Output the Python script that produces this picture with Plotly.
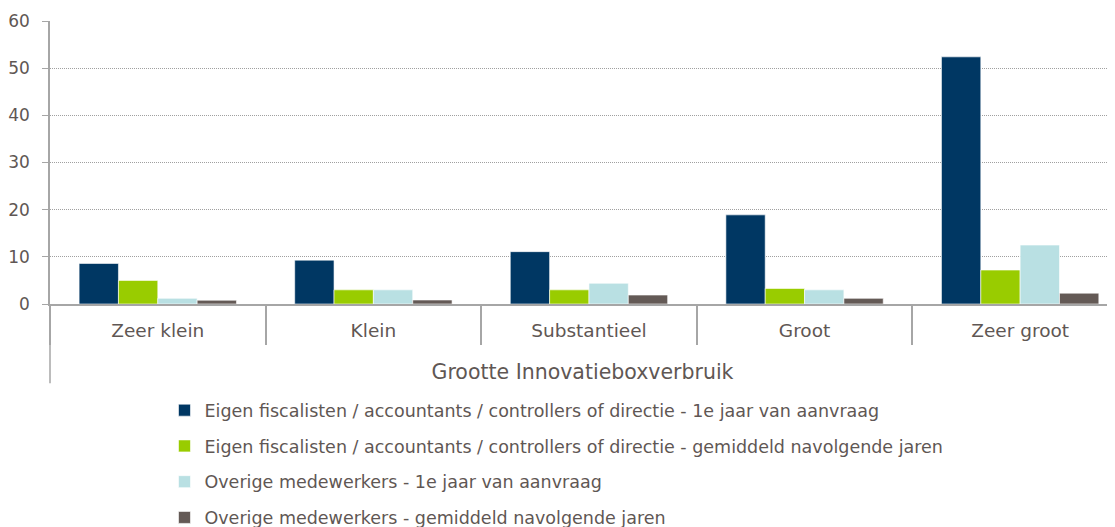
import plotly.graph_objects as go

categories = ["Zeer klein", "Klein", "Substantieel", "Groot", "Zeer groot"]
series_names = [
    "Eigen fiscalisten / accountants / controllers of directie - 1e jaar van aanvraag",
    "Eigen fiscalisten / accountants / controllers of directie - gemiddeld navolgende jaren",
    "Overige medewerkers - 1e jaar van aanvraag",
    "Overige medewerkers - gemiddeld navolgende jaren",
]
eigen_1e_jaar = [8.6, 9.3, 11.1, 18.9, 52.4]
eigen_navolgend = [5.0, 3.0, 3.0, 3.3, 7.2]
overig_1e_jaar = [1.2, 3.0, 4.4, 3.0, 12.5]
overig_navolgend = [0.8, 0.85, 1.9, 1.2, 2.3]
y_ticks = [0, 10, 20, 30, 40, 50, 60]
x_title = "Grootte Innovatieboxverbruik"

colors = ["#003763", "#99cc00", "#b9e0e3", "#645a56"]
text_color = "#5f5754"
axis_color = "#a6a6a6"
font_family = "DejaVu Sans, Verdana, sans-serif"

fig = go.Figure()
for i, (name, vals) in enumerate(zip(series_names, [eigen_1e_jaar, eigen_navolgend, overig_1e_jaar, overig_navolgend])):
    fig.add_trace(go.Bar(
        x=categories, y=vals, name=name,
        marker=dict(color=colors[i], line=dict(color="white", width=0.6)),
        legendgroup=f"g{i}",
    ))

fig.update_layout(
    width=1115, height=527,
    margin=dict(l=42, r=8, t=13, b=231, autoexpand=False),
    paper_bgcolor="white", plot_bgcolor="white",
    barmode="group", bargap=0.27, bargroupgap=0,
    font=dict(family=font_family, color=text_color, size=17),
    showlegend=True,
    legend=dict(
        orientation="v", x=0.1075, xanchor="left", y=-0.312, yanchor="top",
        font=dict(size=17.5, color=text_color), tracegroupgap=10,
        traceorder="grouped", itemwidth=30,
    ),
)

fig.update_yaxes(
    range=[0, 60], tickvals=y_ticks, showgrid=True, automargin=False,
    gridcolor="#a0a0a0", griddash="1px,1px", gridwidth=1,
    showline=True, linecolor=axis_color, linewidth=1.5,
    ticks="outside", ticklen=6, tickcolor=axis_color, ticklabelstandoff=9,
    tickfont=dict(size=17, color=text_color), zeroline=False,
)
fig.update_xaxes(
    range=[-0.5, 4.44], type="category", automargin=False,
    showline=True, linecolor=axis_color, linewidth=2,
    ticks="outside", tickson="boundaries", ticklen=39, tickcolor=axis_color, tickwidth=1.5,
    tickfont=dict(size=18.5, color=text_color), ticklabelstandoff=9,
    title=dict(text=x_title, font=dict(size=20.5, color=text_color), standoff=24),
)

fig.add_shape(type="line", xref="paper", yref="paper", x0=0, x1=0, y0=0, y1=-0.28,
              line=dict(color=axis_color, width=1.5))

fig.write_html("out.html")
